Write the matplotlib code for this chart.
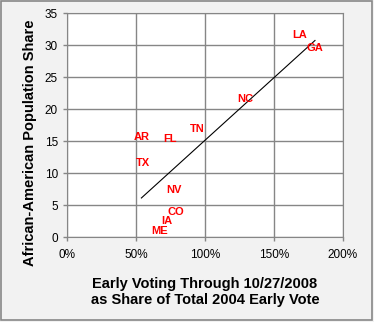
import numpy as np
import matplotlib.pyplot as plt
from matplotlib.patches import Rectangle
from matplotlib.ticker import FuncFormatter

plt.rcParams['font.family'] = ['Liberation Sans', 'DejaVu Sans']

# early vote share (% of 2004 total) and African-American share (%)
states = ['LA', 'GA', 'NC', 'TN', 'AR', 'FL', 'TX', 'NV', 'CO', 'IA', 'ME']
early_vote = [168.6, 179.7, 129.2, 94.4, 53.9, 74.9, 54.8, 77.8, 78.7, 72.0, 67.1]
black_share = [31.6, 29.6, 21.5, 16.8, 15.6, 15.3, 11.6, 7.4, 3.9, 2.5, 0.9]

fig = plt.figure(figsize=(3.74, 3.22), dpi=100, facecolor='#f2f2f2')
fig.patches.append(Rectangle((0.003, 0.006), 0.992, 0.99, transform=fig.transFigure,
                             fill=False, edgecolor='#888888', linewidth=1.2))
ax = fig.add_axes([67 / 374, 1 - 237 / 322, 276 / 374, 224 / 322])
ax.set_facecolor('white')

ax.set_xlim(0, 200)
ax.set_ylim(0, 35)
ax.set_xticks(np.arange(0, 201, 50))
ax.set_yticks(np.arange(0, 36, 5))
ax.xaxis.set_major_formatter(FuncFormatter(lambda v, p: f'{int(v)}%'))
ax.grid(True, color='#868686', linewidth=1.0)
ax.set_axisbelow(True)
for s in ax.spines.values():
    s.set_color('#868686')
ax.tick_params(colors='#868686', labelcolor='black', labelsize=8.5, length=3, width=1)
ax.tick_params(axis='x', pad=6)

for st, x, y in zip(states, early_vote, black_share):
    ax.text(x, y, st, color='#ff0000', fontsize=8, fontweight='bold',
            ha='center', va='center')

# linear trendline
k, b = np.polyfit(early_vote, black_share, 1)
xs = np.array([min(early_vote), max(early_vote)])
ax.plot(xs, k * xs + b, color='black', linewidth=0.8)

ax.set_ylabel('African-American Population Share', fontsize=10.5, fontweight='bold')
ax.yaxis.set_label_coords(-0.11, 0.42)
ax.set_xlabel('Early Voting Through 10/27/2008\nas Share of Total 2004 Early Vote',
              fontsize=10.5, fontweight='bold', labelpad=11)

fig.savefig('out.png', dpi=100, facecolor=fig.get_facecolor())
